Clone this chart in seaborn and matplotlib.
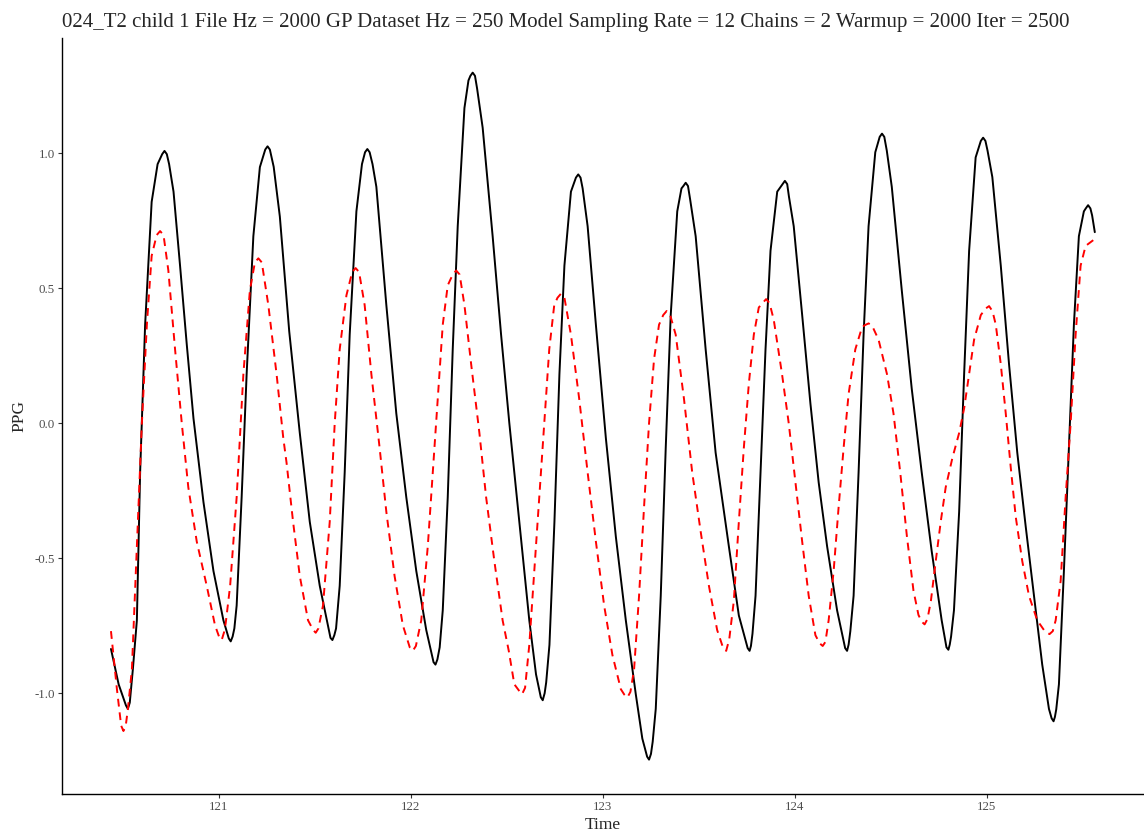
import numpy as np
import pandas as pd
import matplotlib
matplotlib.use("Agg")
import matplotlib.pyplot as plt
import seaborn as sns

time_obs = [120.437, 120.477, 120.525, 120.551, 120.572, 120.589, 120.615, 120.649, 120.68, 120.716,
            120.74, 120.763, 120.797, 120.832, 120.867, 120.919, 120.971, 121.023, 121.061, 121.08,
            121.092, 121.118, 121.144, 121.179, 121.213, 121.253, 121.285, 121.317, 121.366, 121.421,
            121.473, 121.525, 121.591, 121.61, 121.629, 121.655, 121.681, 121.716, 121.745, 121.773,
            121.8, 121.82, 121.872, 121.924, 121.976, 122.028, 122.08, 122.128, 122.15, 122.166,
            122.192, 122.218, 122.244, 122.279, 122.3, 122.322, 122.345, 122.374, 122.426, 122.47,
            122.513, 122.565, 122.617, 122.652, 122.687, 122.705, 122.722, 122.748, 122.774, 122.8,
            122.834, 122.872, 122.895, 122.921, 122.964, 123.016, 123.068, 123.12, 123.172, 123.206,
            123.241, 123.26, 123.276, 123.302, 123.328, 123.354, 123.388, 123.41, 123.432, 123.455,
            123.484, 123.536, 123.588, 123.657, 123.709, 123.765, 123.78, 123.796, 123.822, 123.848,
            123.874, 123.909, 123.949, 123.97, 123.995, 124.039, 124.082, 124.125, 124.169, 124.221,
            124.273, 124.29, 124.307, 124.333, 124.359, 124.385, 124.42, 124.455, 124.48, 124.506,
            124.558, 124.61, 124.662, 124.714, 124.766, 124.801, 124.815, 124.83, 124.857, 124.883,
            124.909, 124.943, 124.982, 125.005, 125.03, 125.074, 125.117, 125.16, 125.204, 125.247,
            125.29, 125.325, 125.349, 125.363, 125.377, 125.403, 125.429, 125.455, 125.481, 125.507,
            125.529, 125.55, 125.564]
ppg_obs = [-0.836, -0.967, -1.058, -0.912, -0.73, -0.18, 0.365, 0.82, 0.96, 1.009,
           0.96, 0.858, 0.584, 0.292, 0.018, -0.292, -0.547, -0.73, -0.808, -0.76,
           -0.675, -0.274, 0.182, 0.693, 0.949, 1.026, 0.95, 0.766, 0.34, -0.036,
           -0.365, -0.602, -0.803, -0.76, -0.602, -0.182, 0.328, 0.785, 0.96, 1.016,
           0.96, 0.876, 0.438, 0.036, -0.274, -0.547, -0.766, -0.894, -0.83, -0.693,
           -0.274, 0.274, 0.73, 1.168, 1.27, 1.299, 1.24, 1.095, 0.693, 0.328,
           0.0, -0.365, -0.73, -0.93, -1.026, -0.96, -0.821, -0.365, 0.182, 0.584,
           0.858, 0.922, 0.87, 0.73, 0.365, -0.055, -0.42, -0.73, -1.004, -1.168,
           -1.246, -1.18, -1.058, -0.639, -0.091, 0.401, 0.785, 0.87, 0.891, 0.83,
           0.693, 0.274, -0.109, -0.456, -0.712, -0.843, -0.78, -0.639, -0.182, 0.274,
           0.639, 0.858, 0.898, 0.84, 0.73, 0.401, 0.073, -0.219, -0.456, -0.693,
           -0.843, -0.77, -0.639, -0.182, 0.328, 0.73, 1.004, 1.073, 1.01, 0.876,
           0.493, 0.128, -0.182, -0.474, -0.73, -0.839, -0.79, -0.693, -0.328, 0.182,
           0.639, 0.985, 1.058, 1.01, 0.912, 0.584, 0.219, -0.109, -0.383, -0.639,
           -0.894, -1.058, -1.104, -1.06, -0.967, -0.547, -0.091, 0.365, 0.693, 0.785,
           0.808, 0.77, 0.708]

# extra readings around the black peaks and troughs
time_obs_tips = [120.704, 120.728, 121.241, 121.265, 121.761, 121.785, 122.31, 122.334,
                 122.86, 122.884, 123.42, 123.444, 123.937, 123.961, 124.443, 124.467,
                 124.97, 124.994, 125.517, 125.541,
                 120.515, 120.535, 121.051, 121.071, 121.581, 121.601, 122.118, 122.138,
                 122.677, 122.697, 123.231, 123.251, 123.755, 123.772, 124.263, 124.281,
                 124.791, 124.808, 125.339, 125.356]
ppg_obs_tips = [0.997, 0.997, 1.014, 1.014, 1.004, 1.004, 1.287, 1.287,
                0.91, 0.91, 0.879, 0.879, 0.886, 0.886, 1.061, 1.061,
                1.046, 1.046, 0.796, 0.796,
                -1.045, -1.035, -0.797, -0.79, -0.795, -0.785, -0.885, -0.875,
                -1.015, -1.0, -1.235, -1.225, -0.833, -0.825, -0.833, -0.82,
                -0.83, -0.82, -1.093, -1.088]

# GP fit (red dashed)
time_fit = [120.437, 120.468, 120.502, 120.525, 120.546, 120.572, 120.598, 120.624, 120.649, 120.693,
            120.736, 120.771, 120.806, 120.84, 120.884, 120.936, 120.979, 121.014, 121.035, 121.058,
            121.092, 121.127, 121.161, 121.205, 121.257, 121.3, 121.335, 121.352, 121.386, 121.421,
            121.464, 121.504, 121.542, 121.577, 121.603, 121.629, 121.664, 121.712, 121.759, 121.794,
            121.837, 121.872, 121.915, 121.958, 122.01, 122.054, 122.088, 122.114, 122.14, 122.166,
            122.192, 122.236, 122.279, 122.314, 122.357, 122.392, 122.435, 122.478, 122.51, 122.539,
            122.579, 122.617, 122.643, 122.669, 122.695, 122.721, 122.747, 122.782, 122.834, 122.877,
            122.921, 122.964, 123.007, 123.05, 123.094, 123.128, 123.163, 123.189, 123.215, 123.241,
            123.267, 123.293, 123.333, 123.38, 123.423, 123.466, 123.51, 123.553, 123.596, 123.643,
            123.683, 123.709, 123.735, 123.761, 123.787, 123.813, 123.851, 123.891, 123.934, 123.969,
            124.004, 124.039, 124.073, 124.108, 124.146, 124.177, 124.203, 124.229, 124.255, 124.281,
            124.316, 124.351, 124.385, 124.437, 124.481, 124.515, 124.55, 124.585, 124.619, 124.645,
            124.677, 124.71, 124.735, 124.761, 124.787, 124.822, 124.857, 124.883, 124.909, 124.935,
            124.97, 125.013, 125.048, 125.074, 125.1, 125.126, 125.152, 125.186, 125.221, 125.264,
            125.328, 125.36, 125.386, 125.412, 125.438, 125.464, 125.49, 125.516, 125.559]
ppg_fit = [-0.77, -0.985, -1.14, -1.06, -0.912, -0.456, 0.0, 0.365, 0.62, 0.712,
           0.566, 0.274, 0.0, -0.237, -0.438, -0.602, -0.748, -0.803, -0.74, -0.602,
           -0.274, 0.182, 0.493, 0.611, 0.438, 0.182, -0.055, -0.146, -0.365, -0.566,
           -0.73, -0.776, -0.675, -0.365, 0.0, 0.274, 0.474, 0.575, 0.438, 0.182,
           -0.091, -0.328, -0.566, -0.748, -0.843, -0.73, -0.456, -0.182, 0.091, 0.365,
           0.511, 0.566, 0.438, 0.219, -0.036, -0.274, -0.511, -0.73, -0.843, -0.967,
           -1.004, -0.821, -0.547, -0.274, 0.0, 0.274, 0.438, 0.48, 0.328, 0.091,
           -0.182, -0.438, -0.675, -0.858, -0.985, -1.016, -0.912, -0.639, -0.31, 0.0,
           0.237, 0.365, 0.416, 0.328, 0.091, -0.182, -0.401, -0.602, -0.766, -0.843,
           -0.657, -0.365, -0.091, 0.146, 0.328, 0.429, 0.46, 0.383, 0.182, 0.0,
           -0.219, -0.438, -0.639, -0.785, -0.825, -0.73, -0.547, -0.31, -0.091, 0.109,
           0.274, 0.356, 0.37, 0.31, 0.182, 0.036, -0.182, -0.42, -0.62, -0.71,
           -0.745, -0.657, -0.511, -0.365, -0.237, -0.128, -0.036, 0.055, 0.182, 0.31,
           0.401, 0.434, 0.365, 0.219, 0.036, -0.164, -0.347, -0.511, -0.639, -0.73,
           -0.781, -0.73, -0.584, -0.274, 0.0, 0.328, 0.584, 0.657, 0.68]

# extra readings around the red peaks and troughs
time_fit_tips = [120.675, 120.711, 121.187, 121.223, 121.694, 121.73, 122.218, 122.254,
                 122.764, 122.8, 123.315, 123.351, 123.833, 123.869, 124.367, 124.403,
                 124.995, 125.031,
                 120.49, 120.514, 121.0, 121.026, 121.49, 121.518, 121.994, 122.026,
                 122.563, 122.595, 123.112, 123.144, 123.627, 123.659, 124.13, 124.16,
                 124.662, 124.692, 125.305, 125.345]
ppg_fit_tips = [0.697, 0.697, 0.596, 0.596, 0.56, 0.56, 0.551, 0.551,
                0.465, 0.465, 0.401, 0.401, 0.445, 0.445, 0.364, 0.362,
                0.425, 0.415,
                -1.12, -1.12, -0.79, -0.775, -0.765, -0.76, -0.83, -0.825,
                -0.99, -0.98, -1.005, -0.995, -0.832, -0.8, -0.815, -0.81,
                -0.735, -0.725, -0.772, -0.77]

title = ("024_T2 child 1 File Hz = 2000 GP Dataset Hz = 250 Model Sampling Rate = 12 "
         "Chains = 2 Warmup = 2000 Iter = 2500")
x_ticks = [121, 122, 123, 124, 125]
y_ticks = [-1.0, -0.5, 0.0, 0.5, 1.0]

obs = pd.DataFrame({"Time": time_obs + time_obs_tips, "PPG": ppg_obs + ppg_obs_tips})
obs = obs.sort_values("Time")
fit = pd.DataFrame({"Time": time_fit + time_fit_tips, "PPG": ppg_fit + ppg_fit_tips})
fit = fit.sort_values("Time")

sns.set_style("ticks")
plt.rcParams["font.family"] = ["Liberation Serif", "DejaVu Serif"]

fig, ax = plt.subplots(figsize=(11.44, 8.32), dpi=100)
fig.subplots_adjust(left=0.054, right=1.0, bottom=0.0457, top=0.954)

sns.lineplot(data=obs, x="Time", y="PPG", ax=ax, color="black", linewidth=1.4,
             estimator=None, sort=False, solid_joinstyle="round")
sns.lineplot(data=fit, x="Time", y="PPG", ax=ax, color="#FF0000", linewidth=1.4,
             estimator=None, sort=False, linestyle=(0, (4, 3)), dash_joinstyle="round")

ax.margins(x=0.05, y=0.05)
ax.set_xticks(x_ticks)
ax.set_xticklabels([str(t) for t in x_ticks])
ax.set_yticks(y_ticks)
ax.set_yticklabels([f"{t:.1f}".replace("−", "-") for t in y_ticks])

ax.tick_params(axis="both", length=3, width=0.8, color="#333333",
               labelcolor="#4D4D4D", labelsize=9.3, pad=2)
for s in ["left", "bottom"]:
    ax.spines[s].set_linewidth(1.0)
    ax.spines[s].set_color("black")
sns.despine(ax=ax)

ax.set_xlabel("Time", fontsize=12.5, labelpad=3)
ax.set_ylabel("PPG", fontsize=12.5, labelpad=5)
ax.set_title(title, loc="left", fontsize=15, pad=8)

fig.savefig("out.png", dpi=100)
plt.close()
